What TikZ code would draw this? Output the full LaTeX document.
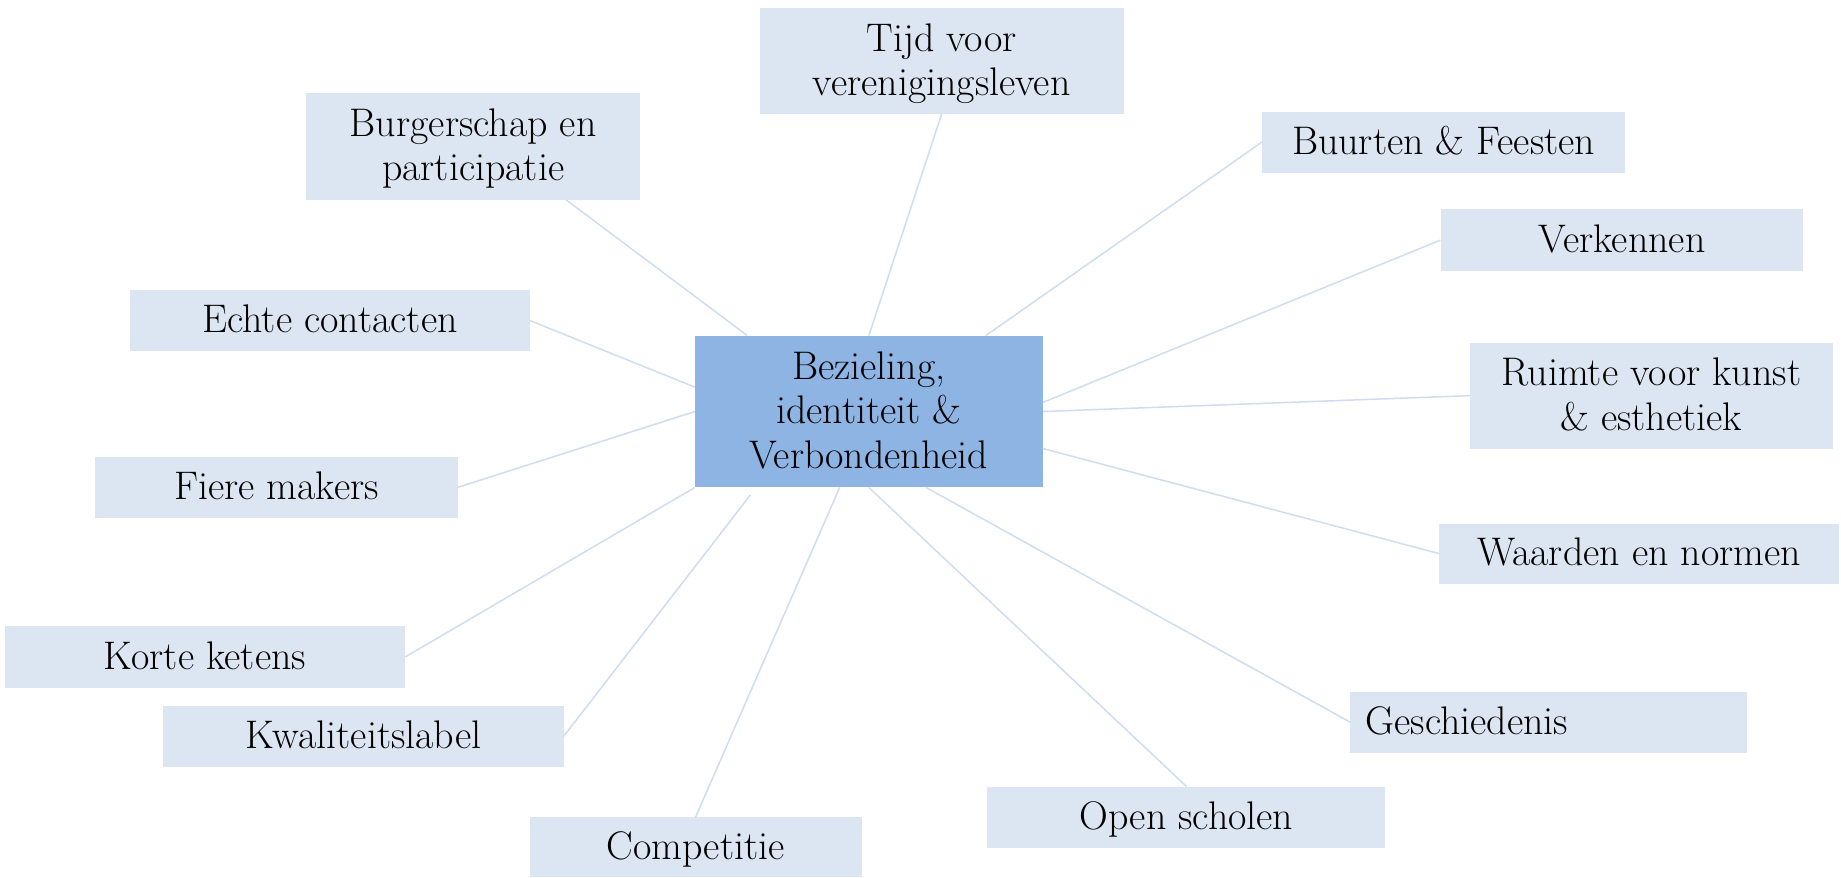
\documentclass[tikz,border=0pt]{standalone}
\usepackage{fontspec}
\definecolor{boxfill}{HTML}{DCE6F2}
\definecolor{hubfill}{HTML}{8EB4E3}
\definecolor{linkcol}{HTML}{D0DDEE}
\begin{document}
\begin{tikzpicture}[x=1pt,y=-1pt,
  box/.style={rectangle, fill=boxfill, inner sep=0pt, align=center,
    font=\fontsize{34}{38}\selectfont, text height=21pt, text depth=0pt},
  twoline/.style={text height=59pt},
  hub/.style={box, fill=hubfill, text height=97pt},
  link/.style={draw=linkcol, line width=1.3pt}]
\useasboundingbox (0,0) rectangle (1568,747);

\node[hub, minimum width=296pt, minimum height=129pt] (c) at (740,350.5) {Bezieling,\\identiteit \&\\Verbondenheid};

\node[box, twoline, minimum width=310pt, minimum height=90pt] (tijd) at (802,52) {Tijd voor\\verenigingsleven};
\node[box, twoline, minimum width=284pt, minimum height=91pt] (burg) at (403,124.5) {Burgerschap en\\participatie};
\node[box, minimum width=309pt, minimum height=52pt] (buur) at (1229.5,121) {Buurten \& Feesten};
\node[box, minimum width=309pt, minimum height=53pt] (verk) at (1381.5,204.5) {Verkennen};
\node[box, minimum width=340pt, minimum height=52pt] (echte) at (281,273) {Echte contacten};
\node[box, twoline, minimum width=309pt, minimum height=90pt] (ruimte) at (1406.5,337) {Ruimte voor kunst\\\& esthetiek};
\node[box, minimum width=309pt, minimum height=52pt] (fiere) at (235.5,415) {Fiere makers};
\node[box, minimum width=340pt, minimum height=51pt] (waarden) at (1396,471.5) {Waarden en normen};
\node[box, minimum width=341pt, minimum height=53pt] (korte) at (174.5,559.5) {Korte ketens};
\node[box, align=left, text width=312pt, inner xsep=13pt, minimum height=52pt] (gesch) at (1319,615) {Geschiedenis};
\node[box, minimum width=341pt, minimum height=52pt] (kwal) at (309.5,627) {Kwaliteitslabel};
\node[box, minimum width=339pt, minimum height=52pt] (open) at (1010.5,696) {Open scholen};
\node[box, minimum width=283pt, minimum height=51pt] (comp) at (592.5,721.5) {Competitie};

\draw[link] (burg.-30.6) -- (c.148.9);
\draw[link] (tijd.south) -- (c.north);
\draw[link] (buur.west) -- (c.33.5);
\draw[link] (verk.west) -- (c.3.3);
\draw[link] (ruimte.west) -- (c.east);
\draw[link] (waarden.west) -- (c.-12.4);
\draw[link] (gesch.west) -- (c.-53.2);
\draw[link] (open.north) -- (c.south);
\draw[link] (comp.north) -- (c.-111.65);
\draw[link, shorten >=8pt] (kwal.east) -- (c.-146.65);
\draw[link] (korte.east) -- (c.south west);
\draw[link] (fiere.east) -- (c.west);
\draw[link] (echte.east) -- (c.172.5);
\end{tikzpicture}
\end{document}
